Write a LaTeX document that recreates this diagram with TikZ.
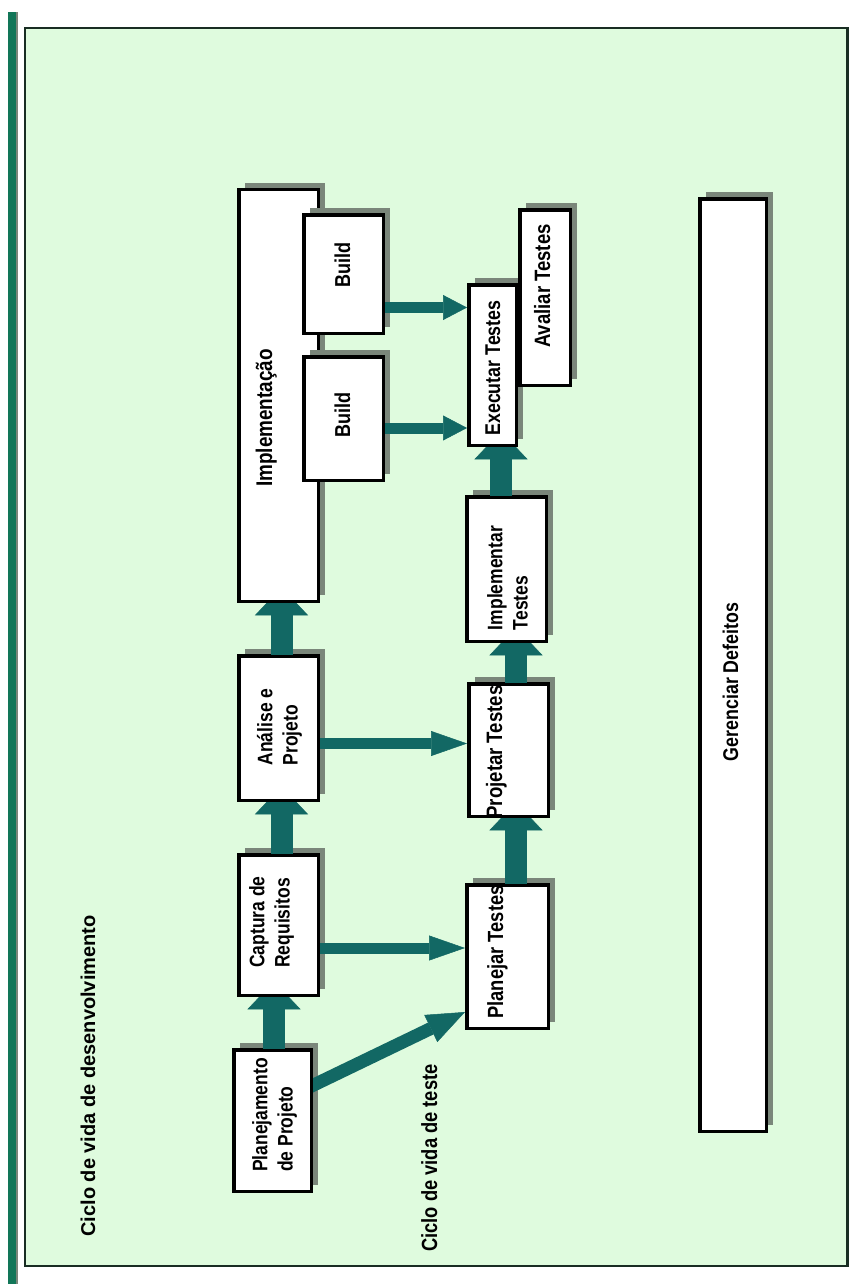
\documentclass[tikz,border=0pt]{standalone}
\usepackage{fontspec}
\setmainfont{Liberation Sans}
\usetikzlibrary{arrows.meta,shadows,calc}
\definecolor{bg}{RGB}{223,251,222}
\definecolor{arrc}{RGB}{18,104,100}
\definecolor{shad}{RGB}{122,134,122}
\definecolor{barg}{RGB}{18,118,88}
\definecolor{framec}{RGB}{25,45,35}
\newcommand\rtxt[2][17.5]{\rotatebox{90}{\scalebox{1}[1.2]{\bfseries\fontsize{#1}{21}\selectfont\begin{tabular}{@{}l@{}}#2\end{tabular}}}}
\newcommand\rtxtplain[2][20]{\rotatebox{90}{\bfseries\fontsize{#1}{24}\selectfont #2}}
\tikzset{
  box/.style={draw=black, line width=3.5pt, fill=white, inner sep=0pt, outer sep=0pt,
    general shadow={fill=shad, shadow xshift=6.5pt, shadow yshift=6.5pt}},
  lbl/.style={inner sep=0pt, outer sep=0pt},
  varr/.style={draw=arrc, line width=22pt, -{Triangle[length=28pt,width=53pt,line width=0.5pt]}},
  harr/.style={draw=arrc, line width=11pt, -{Triangle[length=36pt,width=25pt,line width=0.5pt]}},
  barr/.style={draw=arrc, line width=11pt, -{Triangle[length=24pt,width=25pt,line width=0.5pt]}},
  darr/.style={draw=arrc, line width=13pt, -{Triangle[length=38pt,width=30pt,line width=0.5pt]}}
}
\newcommand\varrow[3]{%
  \begin{scope}
    \clip ($(#2.south west)+(0,1.75)$) rectangle ($(#1.north east)+(0,-1.75)$);
    \draw[varr] ($(#1.north -| #3)+(0,6)$) -- ($(#2.south -| #3)+(0,-14)$);
  \end{scope}}
\newcommand\harrow[4]{%
  \draw[#4] ($(#1.east |- #3)+(1.75,0)$) -- ($(#2.west |- #3)+(-1.75,0)$);}
\begin{document}
\begin{tikzpicture}[x=1pt,y=-1pt]
\useasboundingbox (0,0) rectangle (849,1284);
% left bar
\fill[barg] (8,12) rectangle (15.5,1284);
\fill[shad] (15.5,12) rectangle (18,1284);
% frame
\draw[line width=2.5pt, draw=framec, fill=bg] (25,28) rectangle (847.5,1266);
% boxes
\node[box, minimum width=79.5pt, minimum height=411.5pt] (impl) at (278.5,395.5) {};
\node[box, minimum width=79.5pt, minimum height=118.5pt] (build1) at (343.5,274) {};
\node[box, minimum width=79.5pt, minimum height=123.5pt] (build2) at (343.5,418.5) {};
\node[box, minimum width=47.5pt, minimum height=160.5pt] (exec) at (492.5,365) {};
\node[box, minimum width=50.5pt, minimum height=175.5pt] (aval) at (545,297.5) {};
\node[box, minimum width=79.5pt, minimum height=144.5pt] (implT) at (506.5,569) {};
\node[box, minimum width=79.5pt, minimum height=132.5pt] (projT) at (508.5,750) {};
\node[box, minimum width=79.5pt, minimum height=144.5pt] (anal) at (278.5,728) {};
\node[box, minimum width=79.5pt, minimum height=140.5pt] (capt) at (278.5,925) {};
\node[box, minimum width=81.5pt, minimum height=143.5pt] (planT) at (507.5,956.5) {};
\node[box, minimum width=77.5pt, minimum height=141.5pt] (planP) at (272.5,1120.5) {};
\node[box, minimum width=66.5pt, minimum height=932.5pt] (ger) at (733,665) {};
% coordinates for connectors
\coordinate (vx1) at (274,0);
\coordinate (vx2) at (281.5,0);
\coordinate (vx3) at (516,0);
\coordinate (vx4) at (501,0);
\coordinate (hy1) at (0,307.5);
\coordinate (hy2) at (0,428);
\coordinate (hy3) at (0,743.5);
\coordinate (hy4) at (0,948);
\coordinate (dy1) at (0,1086);
\coordinate (dy2) at (0,1012);
% vertical arrows
\varrow{planP}{capt}{vx1}
\varrow{capt}{anal}{vx2}
\varrow{anal}{impl}{vx2}
\varrow{planT}{projT}{vx3}
\varrow{projT}{implT}{vx3}
\varrow{implT}{exec}{vx4}
% horizontal arrows
\harrow{build1}{exec}{hy1}{barr}
\harrow{build2}{exec}{hy2}{barr}
\harrow{anal}{projT}{hy3}{harr}
\harrow{capt}{planT}{hy4}{harr}
% diagonal arrow
\begin{scope}
  \clip ($(planP.south east)+(1.75,0)$) rectangle ($(planT.north west)+(-1.75,0)$);
  \draw[darr] ($(planP.east |- dy1)+(-8,4)$) -- ($(planT.west |- dy2)+(-1.75,0)$);
\end{scope}
% labels
\node[lbl] (t-impl) at (267,418) {\rtxt[18.9]{Implementação}};
\node[lbl] (t-b1) at (345,265) {\rtxt[18]{Build}};
\node[lbl] (t-b2) at (345,415) {\rtxt[18]{Build}};
\node[lbl] (t-exec) at (495,368) {\rtxt[17.8]{Executar Testes}};
\node[lbl] (t-aval) at (545,286) {\rtxt[18.5]{Avaliar Testes}};
\node[lbl] (t-implT) at (510,578) {\rtxt{Implementar\\Testes}};
\node[lbl] (t-projT) at (497,752) {\rtxt[18.6]{Projetar Testes}};
\node[lbl] (t-anal) at (280,727) {\rtxt{Análise e\\Projeto}};
\node[lbl] (t-capt) at (272,922) {\rtxt{Captura de\\Requisitos}};
\node[lbl] (t-planT) at (498,952) {\rtxt[18.3]{Planejar Testes}};
\node[lbl] (t-planP) at (275,1115) {\rtxt{Planejamento\\de Projeto}};
\node[lbl] (t-ger) at (733,682) {\rtxt[17.8]{Gerenciar Defeitos}};
\node[lbl] (t-dev) at (88,1076) {\rtxtplain[20]{Ciclo de vida de desenvolvimento}};
\node[lbl] (t-test) at (432,1158) {\rtxt[18.3]{Ciclo de vida de teste}};
\end{tikzpicture}
\end{document}
